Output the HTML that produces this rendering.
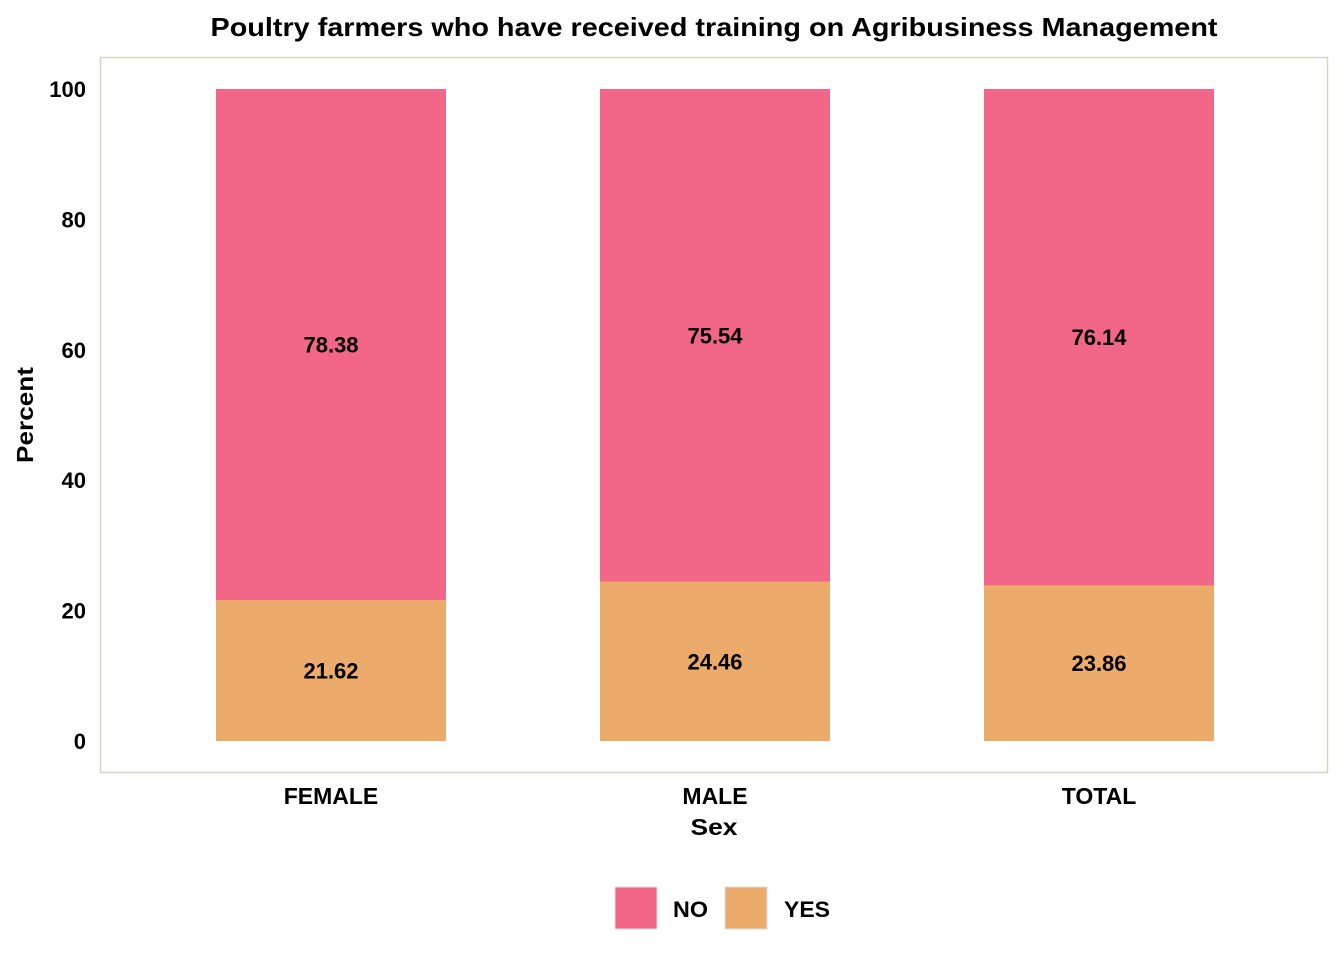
<!DOCTYPE html>
<html><head><meta charset="utf-8"><style>
body{margin:0;background:#fff;}
svg text{font-family:"Liberation Sans",Arial,sans-serif;font-weight:bold;fill:#000;}
</style></head><body>
<svg id="chart" width="1344" height="960" xmlns="http://www.w3.org/2000/svg">
<text x="714" y="36" font-size="26" text-anchor="middle" textLength="1007" lengthAdjust="spacingAndGlyphs">Poultry farmers who have received training on Agribusiness Management</text>
<rect x="100.5" y="57.5" width="1227" height="715" fill="none" stroke="#d9d5bd" stroke-width="1.5"/>
<g id="yticks"></g>
<g id="bars"></g>
<text x="33" y="415" font-size="23" text-anchor="middle" textLength="96" lengthAdjust="spacingAndGlyphs" transform="rotate(-90 33 415)">Percent</text>
<text x="714" y="835" font-size="23" text-anchor="middle" textLength="47" lengthAdjust="spacingAndGlyphs">Sex</text>
<g>
<rect x="615" y="887" width="42" height="42" fill="#F26687" stroke="#ddd"/>
<text x="673" y="917" font-size="22" textLength="35" lengthAdjust="spacingAndGlyphs">NO</text>
<rect x="725" y="887" width="42" height="42" fill="#ECAB6B" stroke="#ddd"/>
<text x="784" y="917" font-size="22" textLength="46" lengthAdjust="spacingAndGlyphs">YES</text>
</g>
</svg>
<script>
const categories=["FEMALE","MALE","TOTAL"];
const yesValues=[21.62,24.46,23.86];
const noValues=[78.38,75.54,76.14];
const yTicks=[0,20,40,60,80,100];
const NS="http://www.w3.org/2000/svg";
const y=v=>741-v*6.52;
const xc=i=>331+i*384;
const bw=230;
function mk(tag,attrs,parent,txt){const e=document.createElementNS(NS,tag);for(const k in attrs)e.setAttribute(k,attrs[k]);if(txt!==undefined)e.textContent=txt;parent.appendChild(e);return e;}
const yt=document.getElementById('yticks');
yTicks.forEach(t=>{
  const e=mk('text',{x:86,y:y(t)+8,'font-size':22,'text-anchor':'end'},yt,String(t));
  
  
});
const bg=document.getElementById('bars');
categories.forEach((c,i)=>{
  const yv=yesValues[i],nv=noValues[i];
  const r1=mk('rect',{x:xc(i)-bw/2,y:y(yv),width:bw,height:y(0)-y(yv),fill:'#ECAB6B'},bg);
  
  
  const r2=mk('rect',{x:xc(i)-bw/2,y:y(yv+nv),width:bw,height:y(yv)-y(yv+nv),fill:'#F26687'},bg);
  
  
  const l1=mk('text',{x:xc(i),y:y(yv/2)+8,'font-size':22,'text-anchor':'middle'},bg,yv.toFixed(2));
  
  
  const l2=mk('text',{x:xc(i),y:y(yv+nv/2)+8,'font-size':22,'text-anchor':'middle'},bg,nv.toFixed(2));
  
  
  const xl=mk('text',{x:xc(i),y:804,'font-size':23,'text-anchor':'middle'},bg,c);
  
  
});
</script>
</body></html>
